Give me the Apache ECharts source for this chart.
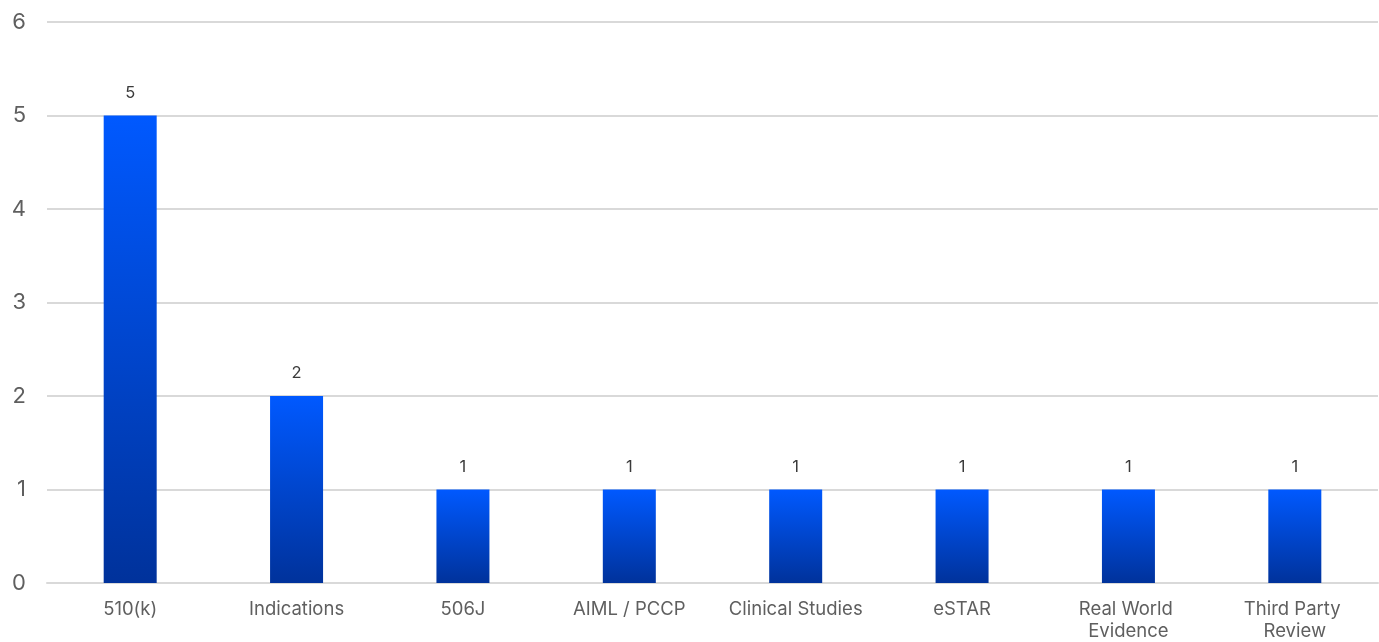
<!DOCTYPE html>
<html>
<head>
<meta charset="utf-8">
<script src="https://cdn.jsdelivr.net/npm/echarts@6/dist/echarts.min.js"></script>
<style>
  html, body { margin: 0; padding: 0; background: #ffffff; }
  #chart { width: 1379px; height: 642px; }
</style>
</head>
<body>
<div id="chart"></div>
<script>
// Topic counts per category
const categories = ['510(k)', 'Indications', '506J', 'AIML / PCCP', 'Clinical Studies', 'eSTAR', 'Real World Evidence', 'Third Party Review'];
const counts = [5, 2, 1, 1, 1, 1, 1, 1];
const yTicks = [0, 1, 2, 3, 4, 5, 6];

const chart = echarts.init(document.getElementById('chart'), null, { renderer: 'canvas' });

const barGradient = new echarts.graphic.LinearGradient(0, 0, 0, 1, [
  { offset: 0, color: '#0059ff' },
  { offset: 1, color: '#00329b' }
]);

chart.setOption({
  animation: false,
  backgroundColor: '#ffffff',
  textStyle: { fontFamily: 'Inter, "Noto Sans", sans-serif' },
  grid: { left: 47, right: 1, top: 22, bottom: 52, containLabel: false },
  xAxis: {
    type: 'category',
    data: categories,
    axisLine: { show: true, lineStyle: { color: '#d9d9d9', width: 2 } },
    axisTick: { show: false },
    axisLabel: {
      interval: 0,
      color: '#5f5f5f',
      fontSize: 18.5,
      margin: 15,
      width: 140,
      overflow: 'break',
      lineHeight: 22
    }
  },
  yAxis: {
    type: 'value',
    min: yTicks[0],
    max: yTicks[yTicks.length - 1],
    interval: 1,
    axisLine: { show: false },
    axisTick: { show: false },
    axisLabel: { color: '#5f5f5f', fontSize: 22, margin: 21 },
    splitLine: { lineStyle: { color: '#d9d9d9', width: 2 } }
  },
  series: [{
    type: 'bar',
    data: counts,
    barWidth: 53,
    itemStyle: { color: barGradient },
    label: {
      show: true,
      position: 'top',
      distance: 14,
      color: '#3a3a3a',
      fontSize: 16.5
    }
  }]
});
</script>
</body>
</html>
